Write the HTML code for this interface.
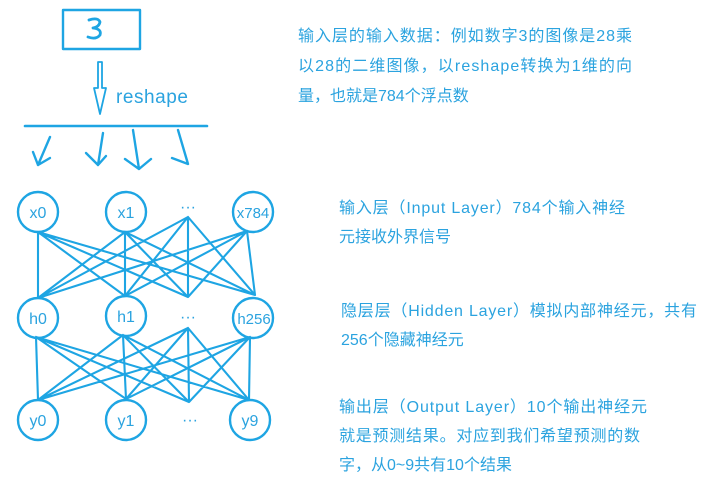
<!DOCTYPE html>
<html><head><meta charset="utf-8"><style>
html,body{margin:0;padding:0;background:#fff;width:717px;height:477px;overflow:hidden}
svg{display:block}
text{font-family:"Liberation Sans","Noto Sans CJK SC",sans-serif;fill:#2ba3df}
</style></head><body>
<svg width="717" height="477" viewBox="0 0 717 477" xmlns="http://www.w3.org/2000/svg">
<g stroke="#1ea5e3" stroke-width="2.4" fill="none" stroke-linecap="round" stroke-linejoin="round">
<rect x="63" y="10" width="77" height="39"/>
<path d="M89 20 Q98 17 100 22 Q99 27 93 28 Q102 29 100 35 Q96 40 88 37" stroke-width="2.8"/>
<path d="M98 62 L98 88 L94 88 L100 114 L106 88 L102 88 L102 62 Z" stroke-width="1.8"/>
<line x1="25" y1="126" x2="207" y2="126" stroke-width="2.6"/>
<path d="M50 137 L38 165 M33 152 L38 165 L50 158"/>
<path d="M103 133 L98 165 M86 153 L98 165 L106 156"/>
<path d="M133 130 L139 169 M125 159 L139 169 L151 159"/>
<path d="M178 130 L188 164 L172 158"/>
<circle cx="38" cy="212" r="20"/><circle cx="126" cy="212" r="20"/><circle cx="253" cy="212" r="20"/>
<circle cx="38" cy="318" r="20"/><circle cx="126" cy="316" r="20"/><circle cx="253" cy="318" r="20"/>
<circle cx="38" cy="420" r="20"/><circle cx="126" cy="420" r="20"/><circle cx="250" cy="420" r="20"/>
<g stroke-width="2.1">
<path d="M38 232 L38 298 M38 232 L125 296 M38 232 L188 297 M38 232 L255 295
M125 232 L38 298 M125 232 L125 296 M125 232 L188 297 M125 232 L255 295
M188 217 L38 298 M188 217 L125 296 M188 217 L188 297 M188 217 L255 295
M247 231 L38 298 M247 231 L125 296 M247 231 L188 297 M247 231 L255 295"/>
<path d="M36 337 L38 400 M36 337 L126 399 M36 337 L189 402 M36 337 L249 400
M123 335 L38 400 M123 335 L126 399 M123 335 L189 402 M123 335 L249 400
M188 328 L38 400 M188 328 L126 399 M188 328 L189 402 M188 328 L249 400
M250 337 L38 400 M250 337 L126 399 M250 337 L189 402 M250 337 L249 400"/>
</g>
</g>
<g font-size="16" text-anchor="middle">
<text x="38" y="218">x0</text><text x="126" y="218">x1</text><text x="253" y="218" font-size="15">x784</text>
<text x="38" y="324">h0</text><text x="126" y="322">h1</text><text x="254" y="324" font-size="15">h256</text>
<text x="38" y="426">y0</text><text x="126" y="426">y1</text><text x="250" y="426">y9</text>
<text x="188" y="212">···</text><text x="188" y="322">···</text><text x="190" y="425">···</text>
</g>
<text x="116" y="103" font-size="19" textLength="72">reshape</text>
<g font-size="16">
<text x="298" y="41" textLength="334">输入层的输入数据：例如数字3的图像是28乘</text>
<text x="298" y="71" textLength="334">以28的二维图像，以reshape转换为1维的向</text>
<text x="298" y="101">量，也就是784个浮点数</text>
<text x="339" y="213" textLength="286">输入层（Input Layer）784个输入神经</text>
<text x="339" y="242">元接收外界信号</text>
<text x="341" y="316" textLength="356">隐层层（Hidden Layer）模拟内部神经元，共有</text>
<text x="341" y="345">256个隐藏神经元</text>
<text x="339" y="412" textLength="308">输出层（Output Layer）10个输出神经元</text>
<text x="339" y="441" textLength="301">就是预测结果。对应到我们希望预测的数</text>
<text x="339" y="470">字，从0~9共有10个结果</text>
</g>
</svg>
</body></html>
